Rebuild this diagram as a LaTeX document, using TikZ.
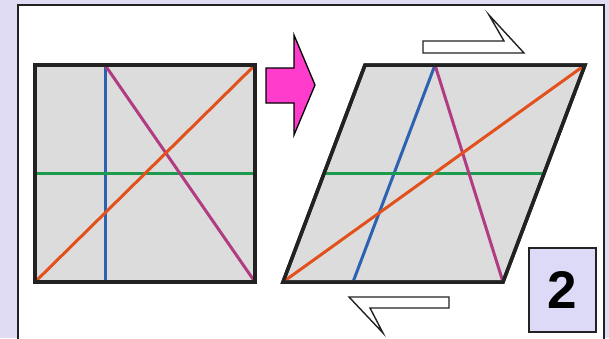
\documentclass[tikz,border=0pt]{standalone}
\usepackage{fontspec}
\setmainfont{Liberation Sans}
\definecolor{bglav}{HTML}{E0DCF4}
\definecolor{boxlav}{HTML}{DCDAF6}
\definecolor{sqgray}{HTML}{DCDCDC}
\definecolor{edge}{HTML}{222222}
\definecolor{lorange}{HTML}{E2511C}
\definecolor{lblue}{HTML}{2C62B0}
\definecolor{lgreen}{HTML}{1C9A4E}
\definecolor{lpurple}{HTML}{B23C82}
\definecolor{apink}{HTML}{FF3CCC}
\tikzset{
  shape edge/.style={draw=edge, line width=3.5pt, fill=sqgray, line join=miter},
  colline/.style={line width=3pt},
  shear arrow/.style={draw=edge, line width=1.4pt, fill=white, line join=miter},
}
\begin{document}
\begin{tikzpicture}[x=1pt,y=-1pt]
\useasboundingbox (0,0) rectangle (609,338);
\fill[bglav] (0,0) rectangle (609,338);
\draw[edge, line width=1.5pt, fill=white] (18,5) rectangle (604,345);
% left square
\coordinate (A1) at (35,282); \coordinate (A2) at (255,282);
\coordinate (A3) at (255,65); \coordinate (A4) at (35,65);
\draw[shape edge] (A1) -- (A2) -- (A3) -- (A4) -- cycle;
\coordinate (bt) at (105,65); \coordinate (bb) at (105,282);
\coordinate (gl) at (35,173); \coordinate (gr) at (255,173);
\draw[colline, lblue] (bt) -- (bb);
\draw[colline, lgreen] (gl) -- (gr);
\draw[colline, lpurple] (bt) -- (A2);
\draw[colline, lorange] (A1) -- (A3);
\draw[draw=edge, line width=3.5pt] (A1) -- (A2) -- (A3) -- (A4) -- cycle;
% right parallelogram
\coordinate (B1) at (283,282); \coordinate (B2) at (503,282);
\coordinate (B3) at (585,65); \coordinate (B4) at (365,65);
\draw[shape edge] (B1) -- (B2) -- (B3) -- (B4) -- cycle;
\coordinate (pbt) at (435,65); \coordinate (pbb) at (353,282);
\coordinate (pgl) at (324,173); \coordinate (pgr) at (544,173);
\draw[colline, lblue] (pbt) -- (pbb);
\draw[colline, lgreen] (pgl) -- (pgr);
\draw[colline, lpurple] (pbt) -- (B2);
\draw[colline, lorange] (B1) -- (B3);
\draw[draw=edge, line width=3.5pt] (B1) -- (B2) -- (B3) -- (B4) -- cycle;
% pink arrow
\draw[draw=black, line width=1.3pt, fill=apink, line join=miter]
  (266,68) -- (294,68) -- (294,35) -- (315,85) -- (294,135) -- (294,103) -- (266,103) -- cycle;
% shear arrows
\draw[shear arrow] (423,41) -- (504,41) -- (489,15) -- (524,53) -- (423,53) -- cycle;
\draw[shear arrow] (449,297) -- (349,297) -- (383,333) -- (370,308) -- (449,308) -- cycle;
% number box
\node[draw=edge, line width=1.4pt, fill=boxlav, minimum width=67pt, minimum height=84pt,
      inner sep=0pt, font=\fontsize{53}{53}\selectfont\bfseries] (num) at (562.5,290) {2};
\end{tikzpicture}
\end{document}
